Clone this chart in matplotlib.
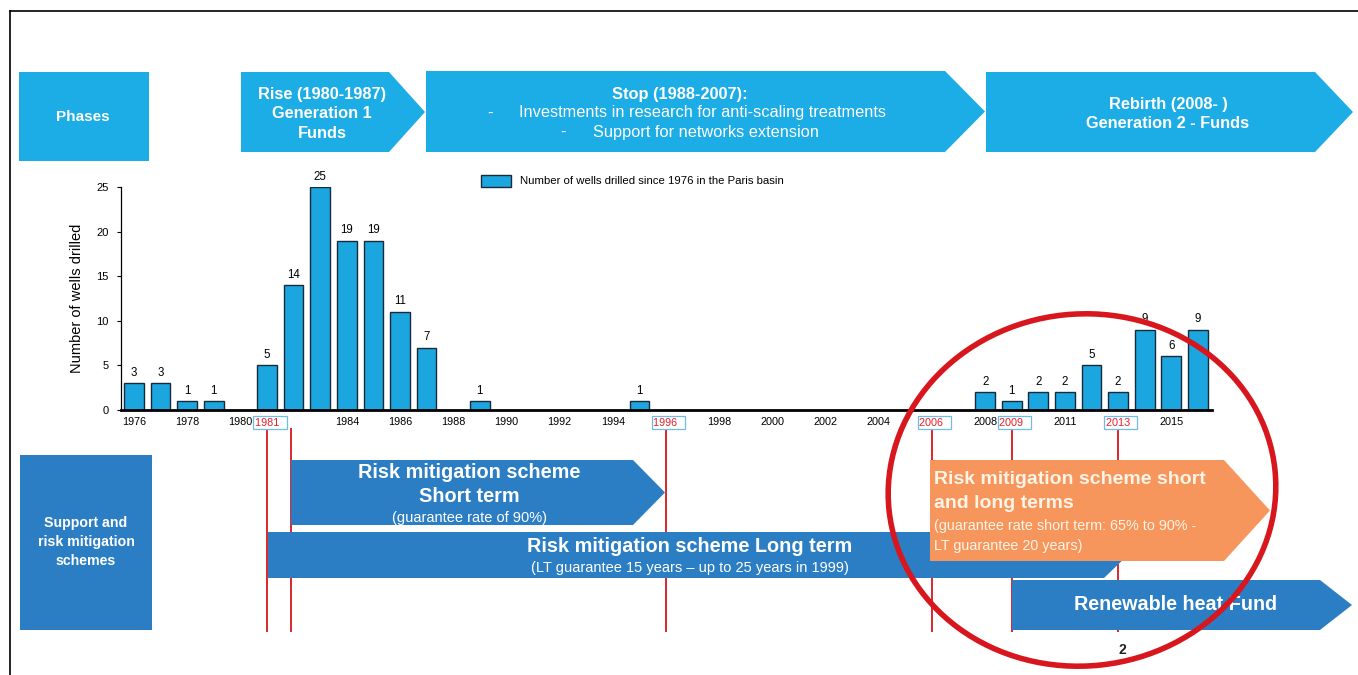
import matplotlib
matplotlib.use('Agg')
import matplotlib.pyplot as plt
from matplotlib.patches import Polygon, Rectangle, Ellipse
from matplotlib.transforms import blended_transform_factory

plt.rcParams['font.family'] = ['Liberation Sans', 'DejaVu Sans']

# wells drilled per year (years with no drilling are left out)
well_years = [1976, 1977, 1978, 1979, 1981, 1982, 1983, 1984, 1985, 1986, 1987, 1989, 1995,
              2008, 2009, 2010, 2011, 2012, 2013, 2014, 2015, 2016]
wells = [3, 3, 1, 1, 5, 14, 25, 19, 19, 11, 7, 1, 1,
         2, 1, 2, 2, 5, 2, 9, 6, 9]

tick_years = [1976, 1978, 1980, 1984, 1986, 1988, 1990, 1992, 1994, 1998, 2000, 2002, 2004,
              2008, 2011, 2015]
key_years = [1981, 1996, 2006, 2009, 2013]
marker_years = [1981, 1981.9, 1996, 2006, 2009, 2013]

legend_label = 'Number of wells drilled since 1976 in the Paris basin'

LIGHT = '#1cacE6'
BAR = '#1ba6df'
DARK = '#2b7ec3'
ORANGE = '#f7965c'
RED = '#d8161d'

W, H = 1358, 675
fig = plt.figure(figsize=(W / 100, H / 100), dpi=100)

# pixel-space layer for the boxes and arrows
ov = fig.add_axes([0, 0, 1, 1], zorder=0)
ov.set_xlim(0, W)
ov.set_ylim(H, 0)
ov.axis('off')

# bar chart
ax = fig.add_axes([121 / W, (H - 410) / H, (1212 - 121) / W, 223 / H], zorder=2)
ax.patch.set_alpha(0)
bars = ax.bar(well_years, wells, width=0.74, color=BAR, edgecolor='#1a2a3a', linewidth=1.0)
for x, v in zip(well_years, wells):
    ax.text(x, v + 0.5, str(v), ha='center', va='bottom', fontsize=8.3)
ax.set_xlim(1975.51, 2016.53)
ax.set_ylim(0, 25)
ax.set_yticks([0, 5, 10, 15, 20, 25])
ax.set_xticks(tick_years)
ax.tick_params(axis='x', length=0, labelsize=7.8, pad=5)
ax.tick_params(axis='y', length=3, labelsize=8, pad=6)
for s in ('top', 'right'):
    ax.spines[s].set_visible(False)
ax.spines['bottom'].set_linewidth(2)
ax.spines['left'].set_linewidth(0.9)
ax.set_ylabel('Number of wells drilled', fontsize=10.5, labelpad=9)

for yr in key_years:
    ax.annotate(f'{yr}  ', xy=(yr, 0), xytext=(-9, -9), textcoords='offset points',
                ha='left', va='center', fontsize=7.8, color='#e8202a',
                bbox=dict(boxstyle='square,pad=0.15', fc='white', ec='#6fbde3', lw=0.9))

# legend
ov.add_patch(Rectangle((481, 175), 30, 12, fc=BAR, ec='#1a2a3a', lw=1))
ov.text(520, 181.5, legend_label, fontsize=8.2, va='center')

# red milestone lines, x in years
yr_trans = blended_transform_factory(ax.transData, ov.transData)
ov.vlines(marker_years, 428, 632, colors=RED, lw=1.3, transform=yr_trans, zorder=1)


def arrow(x0, x1, y0, y1, tip, color, z=2):
    ym = (y0 + y1) / 2
    pts = [(x0, y0), (x1 - tip, y0), (x1, ym), (x1 - tip, y1), (x0, y1)]
    ov.add_patch(Polygon(pts, closed=True, fc=color, ec='none', zorder=z))


def label(x, y, s, size, bold=True, ha='center', color='white', z=3):
    ov.text(x, y, s, color=color, fontsize=size, fontweight='bold' if bold else 'normal',
            ha=ha, va='center', zorder=z)


# phases row
ov.add_patch(Rectangle((19, 72), 130, 89, fc=LIGHT, ec='none', zorder=2))
label(83, 117, 'Phases', 11)

arrow(241, 425, 72, 152, 36, LIGHT)
for y, s in zip([95, 114, 134], ['Rise (1980-1987)', 'Generation 1', 'Funds']):
    label(322, y, s, 11.8)

arrow(426, 985, 71, 152, 40, LIGHT)
label(680, 94, 'Stop (1988-2007):', 11.8)
label(490, 113, '-', 11.8, bold=False)
label(519, 113, 'Investments in research for anti-scaling treatments', 11.8, bold=False, ha='left')
label(563, 132, '-', 11.8, bold=False)
label(593, 132, 'Support for networks extension', 11.8, bold=False, ha='left')

arrow(986, 1353, 72, 152, 38, LIGHT)
for y, s in zip([104, 124], ['Rebirth (2008- )', 'Generation 2 - Funds']):
    label(1168, y, s, 11.8)

# support and risk mitigation row
ov.add_patch(Rectangle((20, 455), 132, 175, fc=DARK, ec='none', zorder=2))
for y, s in zip([523, 542, 561], ['Support and', 'risk mitigation', 'schemes']):
    label(86, y, s, 10.2)

arrow(291, 665, 460, 525, 32, DARK)
label(469, 472, 'Risk mitigation scheme', 14.3)
label(469, 496, 'Short term', 14.3)
label(469, 518, '(guarantee rate of 90%)', 10.5, bold=False)

arrow(268, 1128, 532, 578, 24, DARK)
label(690, 547, 'Risk mitigation scheme Long term', 14.3)
label(690, 568, '(LT guarantee 15 years \u2013 up to 25 years in 1999)', 10.5, bold=False)

arrow(930, 1270, 460, 561, 46, ORANGE, z=4)
label(934, 480, 'Risk mitigation scheme short', 14, ha='left', color='#fff4e6', z=5)
label(934, 504, 'and long terms', 14, ha='left', color='#fff4e6', z=5)
label(934, 526, '(guarantee rate short term: 65% to 90% -', 10.4, bold=False, ha='left',
      color='#fff4e6', z=5)
label(934, 546, 'LT guarantee 20 years)', 10.4, bold=False, ha='left', color='#fff4e6', z=5)

arrow(1012, 1352, 580, 630, 32, DARK)
label(1176, 605, 'Renewable heat Fund', 14.2)

# frame lines
ov.plot([10, W], [11, 11], color='black', lw=1.2)
ov.plot([10, 10], [11, H], color='black', lw=1.2)

# highlight circle drawn over everything
top = fig.add_axes([0, 0, 1, 1], zorder=5)
top.set_xlim(0, W)
top.set_ylim(H, 0)
top.axis('off')
top.add_patch(Ellipse((1082, 490), 388, 352, angle=-6, fill=False, ec=RED, lw=4))
top.text(1122, 650, '2', fontsize=10, fontweight='bold', ha='center', va='center', color='#222222')

fig.savefig('out.png', dpi=100)
